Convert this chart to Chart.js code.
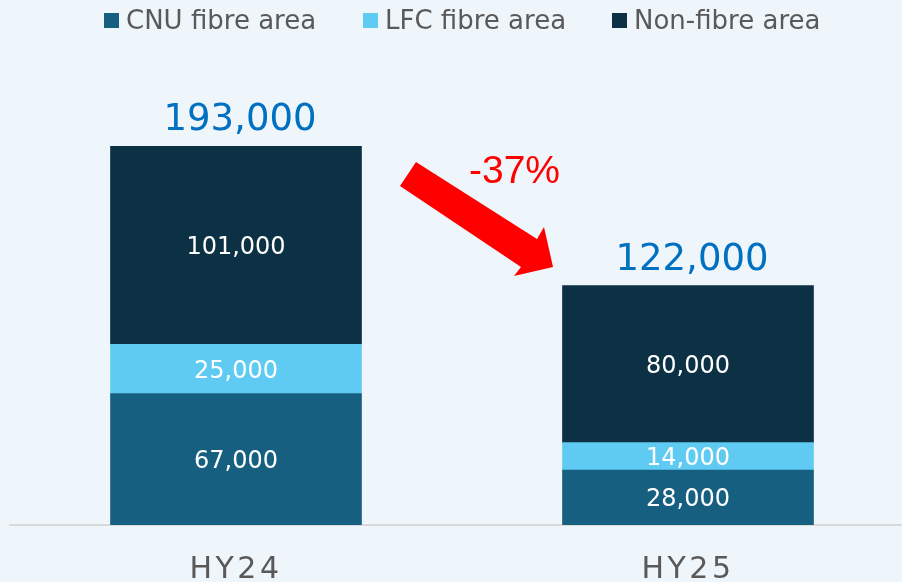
<!DOCTYPE html>
<html>
<head>
<meta charset="utf-8">
<script src="https://cdn.jsdelivr.net/npm/chart.js@4"></script>
<style>
  html, body { margin: 0; padding: 0; background: #EEF5FB; overflow: hidden; }
  #wrap { width: 914px; height: 582px; }
</style>
</head>
<body>
<div id="wrap"><canvas id="chart"></canvas></div>
<script>
const categories = ["HY24", "HY25"];
const cnuFibre = [67000, 28000];
const lfcFibre = [25000, 14000];
const nonFibre = [101000, 80000];
const totals = [193000, 122000];
const changeLabel = "-37%";

// legend drawn across the top, one entry per dataset
const legendPlugin = {
    id: "topLegend",
    afterDraw(chart) {
        const ctx = chart.ctx;
        const starts = [104, 363, 612];
        ctx.save();
        ctx.font = "26px 'DejaVu Sans'";
        ctx.textBaseline = "alphabetic";
        ctx.textAlign = "left";
        chart.data.datasets.forEach((ds, i) => {
            ctx.fillStyle = ds.backgroundColor;
            ctx.fillRect(starts[i], 13, 15, 15);
            ctx.fillStyle = "#595959";
            ctx.fillText(ds.label, starts[i] + 22, 29);
        });
        ctx.restore();
    }
};

// spaced-out category labels
const spacingPlugin = {
    id: "tickSpacing",
    beforeDraw(chart) {
        chart.ctx.letterSpacing = "3.5px";
    },
    beforeDatasetsDraw(chart) {
        chart.ctx.letterSpacing = "0px";
    }
};

const labelPlugin = {
    id: "labels",
    afterDatasetsDraw(chart) {
        const ctx = chart.ctx;
        ctx.save();
        ctx.textAlign = "center";
        ctx.textBaseline = "middle";
        ctx.fillStyle = "#FFFFFF";
        ctx.font = "24px 'DejaVu Sans'";
        chart.data.datasets.forEach((ds, i) => {
            chart.getDatasetMeta(i).data.forEach((bar, j) => {
                const yMid = (bar.y + bar.base) / 2;
                ctx.fillText(ds.data[j].toLocaleString("en-US"), bar.x, yMid + 2.5);
            });
        });

        // totals on top of each stack
        const topMeta = chart.getDatasetMeta(chart.data.datasets.length - 1);
        ctx.fillStyle = "#0070C0";
        ctx.font = "37px 'DejaVu Sans'";
        ctx.textBaseline = "alphabetic";
        topMeta.data.forEach((bar, j) => {
            ctx.fillText(totals[j].toLocaleString("en-US"), bar.x + 4, bar.y - 16);
        });

        // change arrow
        ctx.fillStyle = "#FF0000";
        ctx.beginPath();
        ctx.moveTo(416, 162);
        ctx.lineTo(400, 186);
        ctx.lineTo(521, 267);
        ctx.lineTo(514, 276);
        ctx.lineTo(553, 267);
        ctx.lineTo(544, 227);
        ctx.lineTo(537, 239);
        ctx.closePath();
        ctx.fill();
        ctx.font = "39px 'Liberation Sans'";
        ctx.textAlign = "left";
        ctx.fillText(changeLabel, 469, 183);
        ctx.restore();
    }
};

new Chart(document.getElementById("chart"), {
    type: "bar",
    data: {
        labels: categories,
        datasets: [
            { label: "CNU fibre area", data: cnuFibre, backgroundColor: "#165F80" },
            { label: "LFC fibre area", data: lfcFibre, backgroundColor: "#5FCBF3" },
            { label: "Non-fibre area", data: nonFibre, backgroundColor: "#0C3044" }
        ]
    },
    options: {
        responsive: true,
        maintainAspectRatio: false,
        animation: false,
        events: [],
        layout: { padding: { left: 10, right: 0, top: 0, bottom: 0 } },
        datasets: { bar: { barThickness: 251 } },
        plugins: {
            legend: { display: false },
            tooltip: { enabled: false }
        },
        scales: {
            x: {
                stacked: true,
                grid: { display: false, drawTicks: false },
                border: { display: true, color: "#D9D9D9", width: 2 },
                ticks: {
                    color: "#595959",
                    padding: 27,
                    font: { family: "'DejaVu Sans'", size: 30 }
                },
                afterFit(scale) {
                    scale.height = 57;
                }
            },
            y: {
                stacked: true,
                display: false,
                min: 0,
                max: 267500
            }
        }
    },
    plugins: [spacingPlugin, labelPlugin, legendPlugin]
});
</script>
</body>
</html>
